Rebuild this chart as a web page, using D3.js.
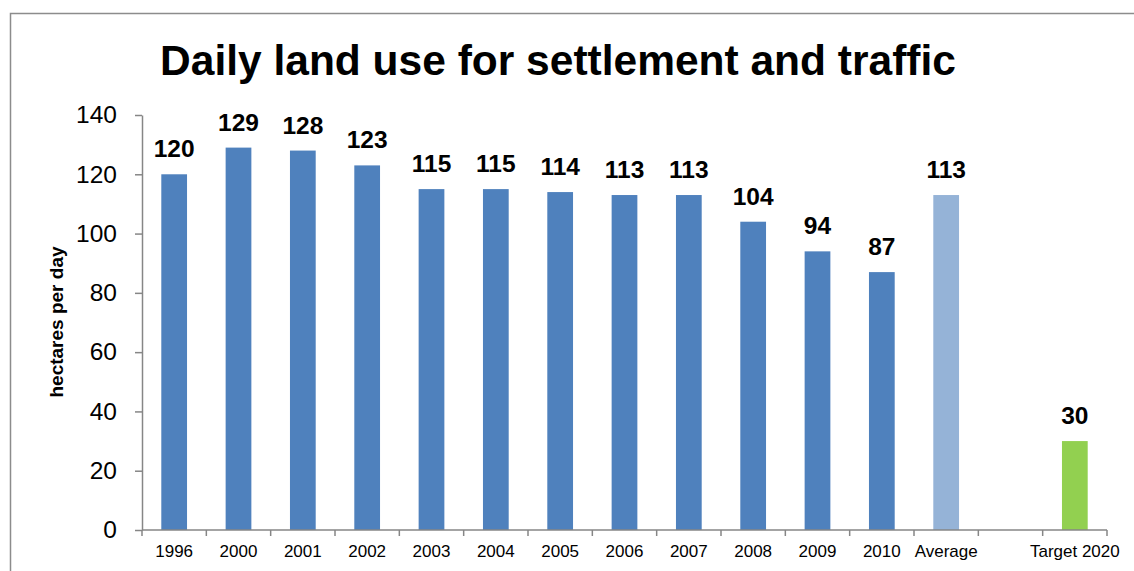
<!DOCTYPE html>
<html><head><meta charset="utf-8">
<script src="https://cdn.jsdelivr.net/npm/d3@7"></script>
<style>body{margin:0;background:#fff;}svg{display:block;font-family:"Liberation Sans",Arial,sans-serif;}</style>
</head><body><svg id="c" width="1134" height="571"></svg>
<script>
const categories = ["1996","2000","2001","2002","2003","2004","2005","2006","2007","2008","2009","2010","Average","","Target 2020"];
const values = [120,129,128,123,115,115,114,113,113,104,94,87,113,null,30];
const colors = ["#4F81BD","#4F81BD","#4F81BD","#4F81BD","#4F81BD","#4F81BD","#4F81BD","#4F81BD","#4F81BD","#4F81BD","#4F81BD","#4F81BD","#95B3D7",null,"#92D050"];
const yTicks = [0,20,40,60,80,100,120,140];
const title = "Daily land use for settlement and traffic";
const yTitle = "hectares per day";

const svg = d3.select("#c");
// outer frame
svg.append("path").attr("d","M10.5,571 L10.5,13.5 L1134,13.5").attr("fill","none").attr("stroke","#8c8c8c").attr("stroke-width",1.5);

const x = d3.scaleBand().domain(categories.map((d,i)=>i)).range([142,1107]).paddingInner(0.6).paddingOuter(0.3);
const y = d3.scaleLinear().domain([0,140]).range([530,115]);

svg.append("text").attr("x",558).attr("y",75).attr("text-anchor","middle").attr("font-size",42.5).attr("font-weight","bold").text(title);

const data = categories.map((c,i)=>({c,i,v:values[i],col:colors[i]})).filter(d=>d.v!=null);
svg.selectAll("rect.bar").data(data).enter().append("rect").attr("class","bar")
  .attr("x",d=>x(d.i)).attr("width",x.bandwidth()).attr("y",d=>y(d.v)).attr("height",d=>y(0)-y(d.v)).attr("fill",d=>d.col);

svg.selectAll("text.val").data(data).enter().append("text").attr("class","val")
  .attr("x",d=>x(d.i)+x.bandwidth()/2).attr("y",d=>y(d.v)-17).attr("text-anchor","middle")
  .attr("font-size",24.5).attr("font-weight","bold").text(d=>d.v);

// y axis
const ya = svg.append("g").attr("transform","translate(142,0)").call(d3.axisLeft(y).tickValues(yTicks).tickSize(7).tickSizeOuter(0).tickPadding(18));
ya.select(".domain").attr("stroke","#868686").attr("stroke-width",1.5);
ya.selectAll(".tick line").attr("stroke","#868686").attr("stroke-width",1.5);
ya.selectAll(".tick text").attr("font-size",24.5).attr("fill","#000").attr("font-family","Liberation Sans, Arial, sans-serif");

// x axis
const xa = svg.append("g").attr("transform","translate(0,530)");
xa.append("line").attr("x1",142).attr("x2",1107).attr("stroke","#868686").attr("stroke-width",1.5);
const bounds = d3.range(categories.length+1).map(i=>142+i*x.step());
xa.selectAll("line.t").data(bounds).enter().append("line").attr("class","t")
  .attr("x1",d=>d).attr("x2",d=>d).attr("y1",0).attr("y2",6).attr("stroke","#868686").attr("stroke-width",1.5);
xa.selectAll("text").data(categories.map((c,i)=>({c,i}))).enter().append("text")
  .attr("x",d=>x(d.i)+x.bandwidth()/2).attr("y",27).attr("text-anchor","middle").attr("font-size",17).text(d=>d.c);

svg.append("text").attr("transform","translate(63,322) rotate(-90)").attr("text-anchor","middle")
  .attr("font-size",19).attr("font-weight","bold").text(yTitle);
</script></body></html>
